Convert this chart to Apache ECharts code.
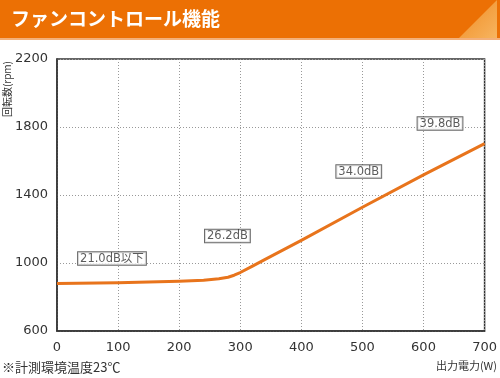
<!DOCTYPE html>
<html><head><meta charset="utf-8">
<script src="https://cdn.jsdelivr.net/npm/echarts@6/dist/echarts.min.js"></script>
<style>html,body{margin:0;padding:0;background:#fff;}#c{width:500px;height:378px;}</style>
</head><body><div id="c"></div>
<script>
const title = 'ファンコントロール機能';
const yAxisName = '回転数(rpm)';
const xAxisName = '出力電力(W)';
const footnote = '※計測環境温度23℃';
const power = [0, 100, 200, 240, 265, 280, 290, 300, 320, 340, 400, 500, 600, 700];
const rpm = [880, 884, 893, 899, 907, 916, 928, 944, 982, 1020, 1133, 1328, 1518, 1702];
const noiseLabels = ['21.0dB以下', '26.2dB', '34.0dB', '39.8dB'];
const noiseX = [90, 279, 494, 627];
const noiseY = [1026, 1159, 1538, 1820];

const font = '"DejaVu Sans", "Noto Sans CJK JP", sans-serif';
const chart = echarts.init(document.getElementById('c'), null, {renderer: 'canvas'});
chart.setOption({
  animation: false,
  textStyle: {fontFamily: font},
  graphic: [
    {type: 'rect', shape: {x: 0, y: 0, width: 500, height: 39}, style: {fill: '#EC7004'}, z: 1},
    {type: 'polygon', shape: {points: [[458, 39], [497, 0], [497, 39]]},
     style: {fill: new echarts.graphic.LinearGradient(0, 0, 1, 1, [{offset: 0, color: '#F08A20'}, {offset: 1, color: '#F7B560'}])}, z: 2},
    {type: 'rect', shape: {x: 0, y: 38, width: 500, height: 2}, style: {fill: '#F3B07A'}, z: 2},
    {type: 'text', left: 11, top: 9, style: {text: title, fill: '#fff', font: 'bold 19px "Noto Sans CJK JP", sans-serif'}, z: 3},
    {type: 'text', left: 2, top: 361, style: {text: footnote, fill: '#333', font: '13px "Noto Sans CJK JP", sans-serif'}},
    {type: 'text', right: 3, top: 360, style: {text: xAxisName, fill: '#333', font: '11px "Noto Sans CJK JP", sans-serif'}},
    {type: 'text', left: 2, top: 61, rotation: Math.PI / 2, style: {text: yAxisName, fill: '#333', font: '10px "Noto Sans CJK JP", sans-serif'}}
  ],
  grid: {left: 57, right: 14, top: 59, bottom: 47, show: true, borderColor: '#333', borderWidth: 1.5, backgroundColor: 'transparent'},
  xAxis: {
    type: 'value', min: 0, max: 700, interval: 100,
    axisLine: {show: true, lineStyle: {color: '#333', width: 1.5}},
    axisTick: {show: false},
    axisLabel: {color: '#333', fontSize: 13, margin: 10, fontFamily: font, formatter: v => String(v)},
    splitLine: {show: true, lineStyle: {color: '#999', type: [1, 2], width: 1}}
  },
  yAxis: {
    type: 'value', min: 600, max: 2200, interval: 400,
    axisLine: {show: true, lineStyle: {color: '#333', width: 1.5}},
    axisTick: {show: false},
    axisLabel: {color: '#333', fontSize: 13, margin: 9, fontFamily: font, formatter: v => String(v)},
    splitLine: {show: true, lineStyle: {color: '#999', type: [1, 2], width: 1}}
  },
  series: [
    {
      type: 'line', data: power.map((p, i) => [p, rpm[i]]), smooth: false, symbol: 'none',
      lineStyle: {color: '#E8741C', width: 3, join: 'round'}, z: 3
    },
    {
      type: 'scatter', symbolSize: 0, silent: true,
      data: noiseLabels.map((t, i) => ({value: [noiseX[i], noiseY[i]], name: t})),
      label: {
        show: true, position: 'inside', formatter: p => p.name, color: '#333', fontSize: 11.5,
        fontFamily: font, backgroundColor: '#fff', borderColor: '#444', borderWidth: 1, padding: [1, 2, 0, 2]
      }, z: 4
    }
  ]
});
</script></body></html>
